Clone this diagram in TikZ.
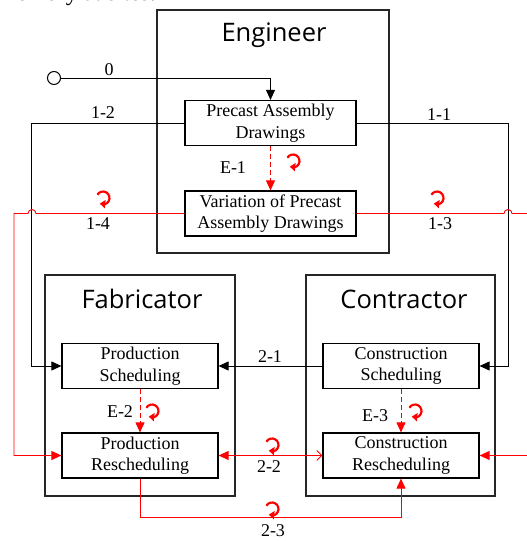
\documentclass[tikz,border=0pt]{standalone}
\usepackage{fontspec}
\setmainfont{Liberation Serif}
\newfontfamily\titlefont{Open Sans}
\usetikzlibrary{arrows.meta,calc,bending}

\tikzset{
  every picture/.style={x=1pt,y=-1pt},
  frame/.style={draw=black!85,line width=1.6pt,inner sep=0pt},
  title/.style={font=\titlefont\fontsize{25.5}{28}\selectfont},
  stepbox/.style={draw,line width=1.2pt,minimum width=156pt,minimum height=45pt,
    align=center,inner sep=0pt,font=\fontsize{18}{21.5}\selectfont},
  widebox/.style={stepbox,minimum width=171pt},
  lbl/.style={font=\fontsize{18}{20}\selectfont,inner sep=0pt},
  flow/.style={line width=0.9pt,-{Triangle[length=10pt,width=9pt]}},
  change/.style={draw=red,line width=0.9pt,-{Triangle[length=10pt,width=9pt]}},
  loopmark/.pic={\draw[red,line width=2.2pt,-{Triangle[length=5.5pt,width=8pt,flex]}]
    (150:6.5pt) arc (150:-120:6.5pt);}
}

\begin{document}
\begin{tikzpicture}
\useasboundingbox (0,0) rectangle (527,541);

% caption fragment at the top edge
\node[anchor=base east,inner sep=0pt,font=\fontsize{24}{28}\selectfont] (cap) at (156,0.5) {memory at sites.};

% party frames
\node[frame,minimum width=232pt,minimum height=243pt] (engf) at (273,131.5) {};
\node[frame,minimum width=190pt,minimum height=221pt] (fabf) at (140,385.5) {};
\node[frame,minimum width=189pt,minimum height=221pt] (conf) at (400.5,385.5) {};
\node[title] (engt) at (274,35) {Engineer};
\node[title] (fabt) at (142,299) {Fabricator};
\node[title] (cont) at (404,299) {Contractor};

% process boxes
\node[widebox] (pad) at (270.5,123) {Precast Assembly\\Drawings};
\node[widebox] (var) at (270.5,213.5) {Variation of Precast\\Assembly Drawings};
\node[stepbox] (ps) at (140,366) {Production\\Scheduling};
\node[stepbox] (cs) at (401,366) {Construction\\Scheduling};
\node[stepbox] (pr) at (140,455.5) {Production\\Rescheduling};
\node[stepbox] (cr) at (401,455.5) {Construction\\Rescheduling};

% start point
\node[draw,circle,line width=1pt,minimum size=13pt,inner sep=0pt] (start) at (54,78) {};

% regular information flows
\draw[flow] (start) -| (pad);
\draw[flow] (pad.west) -| ($(ps.west)+(-30,0)$) -- (ps.west);
\draw[flow] (pad.east) -| ($(cs.east)+(29,0)$) -- (cs.east);
\draw[flow] (cs) -- (ps);

% change propagation
\draw[change,dashed,dash pattern=on 5pt off 3pt] (pad) -- (var);
\draw[change,dashed,dash pattern=on 5pt off 3pt] (ps) -- (pr);
\draw[change,dashed,dash pattern=on 5pt off 3pt] (cs) -- (cr);
\draw[change] (var.west) -- (36,213.5) arc[start angle=0,end angle=180,radius=4pt]
  -- (14,213.5) -- (14,455.5) -- (pr.west);
\draw[change] (var.east) -- (504,213.5) arc[start angle=180,end angle=0,radius=4pt]
  -- (540,213.5) -- (540,455.5) -- (cr.east);
\draw[draw=red,line width=0.9pt,{Triangle[length=10pt,width=9pt]}-{Straight Barb[length=5pt,width=10pt]}] (pr) -- (cr);
\draw[change] (pr.south) -- ++(0,39) -| (cr.south);

% change markers
\pic at (293,161) {loopmark};
\pic at (103,198) {loopmark};
\pic at (437,198) {loopmark};
\pic at (152,411) {loopmark};
\pic at (415,411) {loopmark};
\pic at (272,445) {loopmark};
\pic at (272,509) {loopmark};

% labels
\node[lbl] (l0) at (109,70) {0};
\node[lbl] (l12) at (103,113) {1-2};
\node[lbl] (l11) at (439,115) {1-1};
\node[lbl] (le1) at (233,168) {E-1};
\node[lbl] (l14) at (98,224) {1-4};
\node[lbl] (l13) at (440,224) {1-3};
\node[lbl] (l21) at (270,357) {2-1};
\node[lbl] (le2) at (120,412) {E-2};
\node[lbl] (le3) at (375,416) {E-3};
\node[lbl] (l22) at (269,467) {2-2};
\node[lbl] (l23) at (273,531) {2-3};
\end{tikzpicture}
\end{document}
